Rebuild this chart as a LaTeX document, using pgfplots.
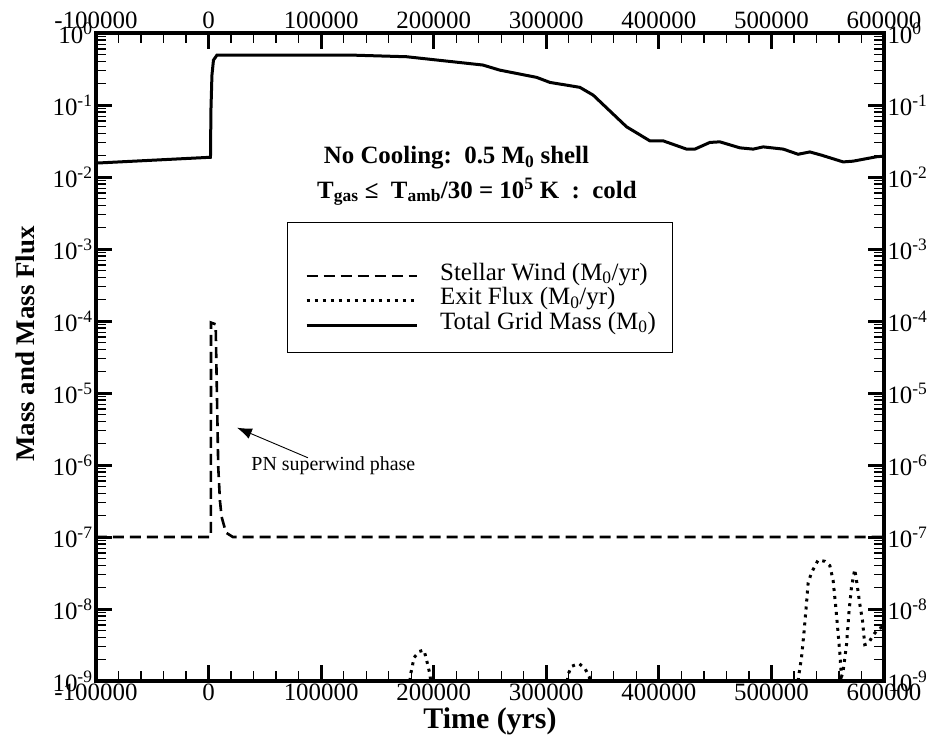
\documentclass[border=0pt]{standalone}
\usepackage{fontspec}
\setmainfont{Liberation Serif}
\usepackage{pgfplots}
\usepackage{pgfplotstable}
\pgfplotsset{compat=1.18}
\usetikzlibrary{arrows.meta}

% Total mass on the grid (M_0)
\pgfplotstableread{
t mass
-100000 0.0156
1700 0.0188
2100 0.085
3000 0.26
4350 0.42
7500 0.494
125600 0.494
176000 0.468
243700 0.359
258700 0.305
291400 0.242
303200 0.206
329800 0.176
341700 0.137
371300 0.0498
392000 0.0318
403800 0.0318
424600 0.0244
432000 0.0244
445300 0.0302
454200 0.0308
472000 0.0254
483800 0.0244
492700 0.0262
510500 0.0244
523700 0.0207
534100 0.0223
544500 0.0201
563700 0.0162
572600 0.0166
593300 0.0191
600000 0.0195
}\massdata

% Stellar wind mass-loss rate (M_0/yr)
\pgfplotstableread{
t wind
-100000 1e-7
2000 1e-7
2200 9.5e-5
6300 9.0e-5
8600 9.3e-7
10100 3.2e-7
11600 1.9e-7
15500 1.15e-7
21600 1e-7
600000 1e-7
}\winddata

% Mass flux leaving the grid (M_0/yr); nan breaks the curve
\pgfplotstableread{
t flux
178800 1.0e-9
179500 1.24e-9
181000 1.6e-9
182400 2.1e-9
187100 2.57e-9
191300 2.69e-9
193400 2.04e-9
195100 1.58e-9
196600 1.24e-9
197300 1.0e-9
197500 nan
318700 1.0e-9
319400 1.24e-9
322500 1.6e-9
329000 1.75e-9
334300 1.5e-9
338100 1.15e-9
338800 1.0e-9
339000 nan
523600 1.0e-9
524300 1.2e-9
526700 2.1e-9
528800 4.5e-9
531100 1.17e-8
532600 2.3e-8
535600 3.2e-8
541500 4.8e-8
547400 4.6e-8
551900 4.0e-8
554800 2.5e-8
557200 1.05e-8
559300 4.5e-9
560800 2.4e-9
562200 1.15e-9
563500 1.3e-9
566700 3.2e-9
569000 9.5e-9
571100 2.0e-8
574000 3.55e-8
576100 2.2e-8
578500 1.17e-8
580900 6.9e-9
582900 3.2e-9
585900 3.3e-9
590300 4.3e-9
594800 5.3e-9
600000 5.7e-9
}\fluxdata

\pgfplotsset{
  every axis/.append style={
    scale only axis, width=788bp, height=648bp,
    xmin=-100000, xmax=600000, ymin=1e-9, ymax=1,
    scaled x ticks=false,
    xtick={-100000,0,100000,200000,300000,400000,500000,600000},
    xticklabels={-100000,0,100000,200000,300000,400000,500000,600000},
    minor x tick num=4,
    ytick={1e-9,1e-8,1e-7,1e-6,1e-5,1e-4,1e-3,1e-2,1e-1,1},
    yticklabels={10\textsuperscript{-9},10\textsuperscript{-8},10\textsuperscript{-7},
      10\textsuperscript{-6},10\textsuperscript{-5},10\textsuperscript{-4},
      10\textsuperscript{-3},10\textsuperscript{-2},10\textsuperscript{-1},10\textsuperscript{0}},
    tick align=inside,
    major tick length=16bp, minor tick length=10bp,
    every major tick/.append style={line width=3bp, black},
    every minor tick/.append style={line width=1.3bp, black},
    axis line style={line width=3.5bp},
    tick label style={font=\fontsize{25}{25}\selectfont},
    xticklabel style={yshift=1bp},
  },
}

\begin{document}
\begin{tikzpicture}
\begin{axis}[ymode=log, name=ax,
  unbounded coords=jump,
  xlabel={\textbf{Time (yrs)}},
  ylabel={\textbf{Mass and Mass Flux}},
  xlabel style={font=\fontsize{30}{30}\selectfont, at={(axis description cs:0.5,-0.063)}, anchor=center},
  ylabel style={font=\fontsize{27}{27}\selectfont, at={(axis description cs:-0.090,0.52)}, anchor=center},
  legend style={at={(axis description cs:0.2652,0.644)}, anchor=north west,
    draw=none, fill=none, inner sep=0pt, row sep=0pt, column sep=22bp,
    font=\fontsize{25}{25}\selectfont,
    nodes={inner sep=0pt, text height=16.25bp, text depth=8.25bp}},
  legend cell align=left,
]
\addplot[black, line width=2.6bp, dash pattern=on 11bp off 6bp,
  legend image code/.code={\draw[black, line width=2.6bp, dash pattern=on 11bp off 6bp] (0bp,0bp) -- (110bp,0bp);}]
  table[x=t, y=wind] {\winddata};
\addlegendentry{Stellar Wind (M\textsubscript{0}/yr)}
\addplot[black, line width=3bp, dash pattern=on 3bp off 5bp,
  legend image code/.code={\draw[black, line width=3bp, dash pattern=on 3bp off 5bp] (0bp,0bp) -- (110bp,0bp);}]
  table[x=t, y=flux] {\fluxdata};
\addlegendentry{Exit Flux (M\textsubscript{0}/yr)}
\addplot[black, line width=3bp,
  legend image code/.code={\draw[black, line width=3bp] (0bp,0bp) -- (110bp,0bp);}]
  table[x=t, y=mass] {\massdata};
\addlegendentry{Total Grid Mass (M\textsubscript{0})}

\draw[line width=1bp] (rel axis cs:0.2424,0.7068) rectangle (rel axis cs:0.7322,0.5077);

\node[anchor=base, font=\fontsize{25}{25}\selectfont\bfseries]
  at (axis cs:220200,1.55e-2) {No Cooling:\ \ 0.5 M\textsubscript{0} shell};
\node[anchor=base, font=\fontsize{25}{25}\selectfont\bfseries]
  at (axis cs:238400,5.07e-3) {T\textsubscript{gas} ≤\ \ T\textsubscript{amb}/30 = 10\textsuperscript{5} K\ \ :\ \ cold};

\draw[line width=0.9bp, -{Latex[length=15bp,width=11bp]}]
  (axis cs:88300,1.26e-6) -- (axis cs:25200,3.3e-6);
\node[anchor=base west, font=\fontsize{20}{20}\selectfont]
  at (axis cs:35000,8.3e-7) {PN superwind phase};
\end{axis}
\begin{axis}[ymode=log, xticklabel pos=upper, yticklabel pos=right]
\end{axis}
\pgfresetboundingbox
\path[use as bounding box] ([shift={(-96bp,-68bp)}]ax.south west) rectangle ([shift={(52bp,33bp)}]ax.north east);
\end{tikzpicture}
\end{document}
